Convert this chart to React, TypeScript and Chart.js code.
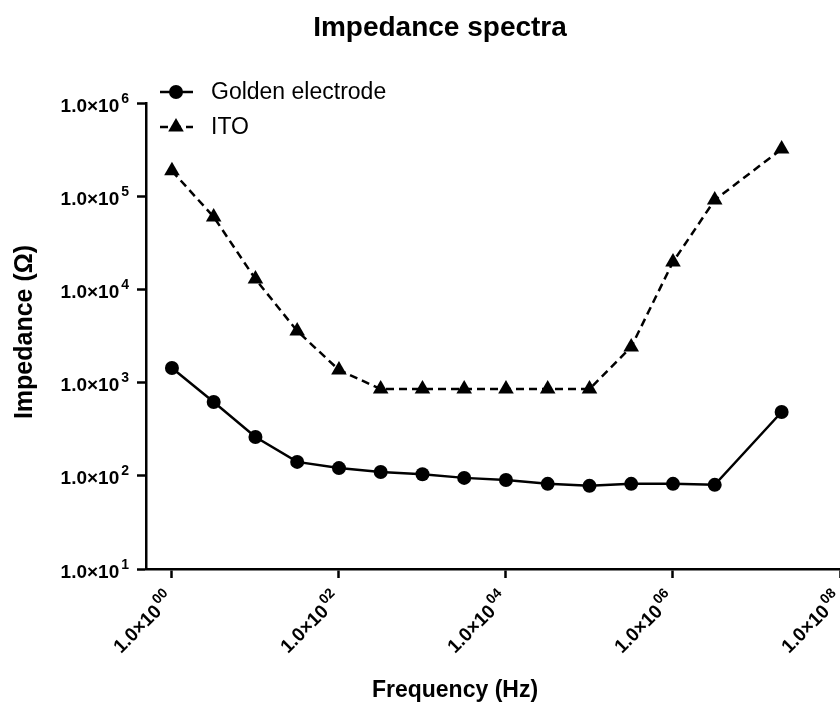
import { useEffect, useRef } from "react";
import { Chart, registerables } from "chart.js";

Chart.register(...registerables);

const chartTitle = "Impedance spectra";
const xAxisTitle = "Frequency (Hz)";
const yAxisTitle = "Impedance (\u03A9)";

const frequencies = [1, 3.16, 10, 31.6, 100, 316, 1000, 3160, 10000, 31600, 100000, 316000, 1000000, 3160000, 20000000];
const goldenImpedance = [1435, 619, 261, 141, 121, 110, 104, 95, 90, 82, 78, 82, 82, 80, 484];
const itoImpedance = [187000, 60000, 12900, 3580, 1365, 853, 853, 853, 853, 853, 853, 2410, 19700, 91000, 320000];

const seriesLabels = ["Golden electrode", "ITO"];

const xTickValues = [1, 1e2, 1e4, 1e6, 1e8];
const xTickBase = "1.0\u00D710";
const xTickExponents = ["00", "02", "04", "06", "08"];
const yTickValues = [1e1, 1e2, 1e3, 1e4, 1e5, 1e6];
const yTickExponents = ["1", "2", "3", "4", "5", "6"];

const FONT = "'Liberation Sans', Arial, Helvetica, sans-serif";

function drawPow(ctx: CanvasRenderingContext2D, base: string, exp: string) {
  const baseFont = `bold 19px ${FONT}`;
  const expFont = `bold 14px ${FONT}`;
  ctx.font = baseFont;
  const wb = ctx.measureText(base).width;
  ctx.font = expFont;
  const we = ctx.measureText(exp).width;
  ctx.textAlign = "left";
  ctx.textBaseline = "alphabetic";
  ctx.font = baseFont;
  ctx.fillText(base, -we - wb - 2, 0);
  ctx.font = expFont;
  ctx.fillText(exp, -we, -9);
}

const labelsPlugin = {
  id: "customLabels",
  afterDraw(chart: any) {
    const ctx: CanvasRenderingContext2D = chart.ctx;
    const xs = chart.scales.x;
    const ys = chart.scales.y;
    ctx.save();
    ctx.fillStyle = "#000";

    // y tick labels
    yTickValues.forEach((v, i) => {
      const py = ys.getPixelForValue(v);
      ctx.save();
      ctx.translate(129, py + 8.5);
      drawPow(ctx, xTickBase, yTickExponents[i]);
      ctx.restore();
    });

    // x tick labels (rotated)
    xTickValues.forEach((v, i) => {
      const px = xs.getPixelForValue(v);
      ctx.save();
      ctx.translate(px + 3, 600);
      ctx.rotate(-Math.PI / 4);
      drawPow(ctx, xTickBase, xTickExponents[i]);
      ctx.restore();
    });

    // main title
    ctx.textAlign = "center";
    ctx.textBaseline = "alphabetic";
    ctx.font = `bold 28px ${FONT}`;
    ctx.fillText(chartTitle, 440, 36);

    // x axis title
    ctx.font = `bold 23px ${FONT}`;
    ctx.fillText(xAxisTitle, 455, 697);

    // y axis title
    ctx.save();
    ctx.translate(32, 332);
    ctx.rotate(-Math.PI / 2);
    ctx.font = `bold 25px ${FONT}`;
    ctx.textAlign = "center";
    ctx.fillText(yAxisTitle, 0, 0);
    ctx.restore();

    // legend
    const legendRows = [92, 127];
    chart.data.datasets.forEach((ds: any, i: number) => {
      const y = legendRows[i];
      ctx.save();
      ctx.strokeStyle = "#000";
      ctx.lineWidth = 2.5;
      if (ds.borderDash && ds.borderDash.length) ctx.setLineDash(ds.borderDash);
      ctx.beginPath();
      ctx.moveTo(160, y);
      ctx.lineTo(193, y);
      ctx.stroke();
      ctx.setLineDash([]);
      ctx.beginPath();
      if (ds.pointStyle === "triangle") {
        const r = ds.pointRadius;
        ctx.moveTo(176, y - r);
        ctx.lineTo(176 + r * Math.sin((2 * Math.PI) / 3), y - r * Math.cos((2 * Math.PI) / 3));
        ctx.lineTo(176 - r * Math.sin((2 * Math.PI) / 3), y - r * Math.cos((2 * Math.PI) / 3));
        ctx.closePath();
      } else {
        ctx.arc(176, y, ds.pointRadius, 0, Math.PI * 2);
      }
      ctx.fillStyle = "#000";
      ctx.fill();
      ctx.font = `23px ${FONT}`;
      ctx.textAlign = "left";
      ctx.textBaseline = "middle";
      ctx.fillText(ds.label, 211, y + 1);
      ctx.restore();
    });

    ctx.restore();
  },
};

export default function App() {
  const canvasRef = useRef<HTMLCanvasElement | null>(null);

  useEffect(() => {
    const canvas = canvasRef.current;
    if (!canvas) return;
    const chart = new Chart(canvas, {
      type: "line",
      data: {
        datasets: [
          {
            label: seriesLabels[0],
            data: frequencies.map((f, i) => ({ x: f, y: goldenImpedance[i] })),
            borderColor: "#000",
            backgroundColor: "#000",
            borderWidth: 2.5,
            pointStyle: "circle",
            pointRadius: 7,
            pointBackgroundColor: "#000",
            pointBorderWidth: 0,
            tension: 0,
          },
          {
            label: seriesLabels[1],
            data: frequencies.map((f, i) => ({ x: f, y: itoImpedance[i] })),
            borderColor: "#000",
            backgroundColor: "#000",
            borderWidth: 2.5,
            borderDash: [8, 5],
            pointStyle: "triangle",
            pointRadius: 9,
            pointBackgroundColor: "#000",
            pointBorderWidth: 0,
            tension: 0,
          },
        ],
      },
      options: {
        animation: false,
        responsive: false,
        devicePixelRatio: 1,
        layout: { autoPadding: false, padding: { top: 103, right: 0, left: 0, bottom: 0 } },
        plugins: {
          legend: { display: false },
          title: { display: false },
          tooltip: { enabled: false },
        },
        scales: {
          x: {
            type: "logarithmic",
            min: 0.489,
            max: 1e8,
            afterBuildTicks: (scale: any) => {
              scale.ticks = xTickValues.map((v) => ({ value: v }));
            },
            afterFit: (scale: any) => {
              scale.height = 134;
              scale.paddingRight = 0;
              scale.paddingLeft = 0;
            },
            ticks: { display: false },
            grid: {
              display: true,
              drawOnChartArea: false,
              drawTicks: true,
              tickLength: 9,
              tickWidth: 2.5,
              tickColor: "#000",
              color: "#000",
            },
            border: { display: true, color: "#000", width: 2.5 },
          },
          y: {
            type: "logarithmic",
            min: 10,
            max: 1e6,
            afterBuildTicks: (scale: any) => {
              scale.ticks = yTickValues.map((v) => ({ value: v }));
            },
            afterFit: (scale: any) => {
              scale.width = 146;
              scale.paddingTop = 0;
              scale.paddingBottom = 0;
            },
            ticks: { display: false },
            grid: {
              display: true,
              drawOnChartArea: false,
              drawTicks: true,
              tickLength: 9,
              tickWidth: 2.5,
              tickColor: "#000",
              color: "#000",
            },
            border: { display: true, color: "#000", width: 2.5 },
          },
        },
      },
      plugins: [labelsPlugin],
    } as any);
    return () => chart.destroy();
  }, []);

  return (
    <div style={{ position: "absolute", left: 0, top: 0, width: 840, height: 703, background: "#fff" }}>
      <canvas ref={canvasRef} width={840} height={703} style={{ width: 840, height: 703, display: "block" }} />
    </div>
  );
}
